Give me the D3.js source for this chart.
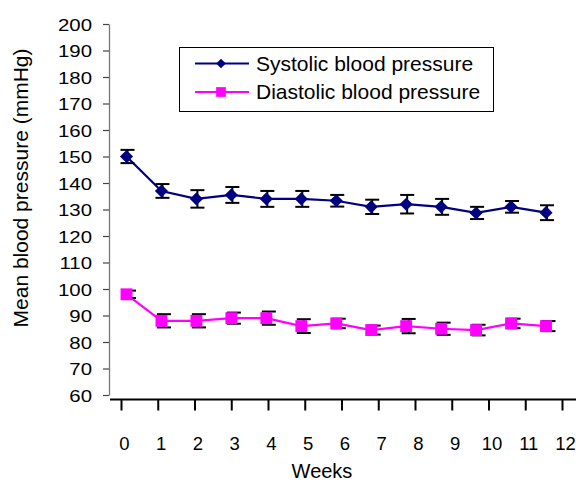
<!DOCTYPE html>
<html>
<head>
<meta charset="utf-8">
<script src="https://cdn.jsdelivr.net/npm/d3@7"></script>
<style>
  html, body { margin: 0; padding: 0; background: #fff; }
  svg { display: block; font-family: "Liberation Sans", Arial, sans-serif; }
</style>
</head>
<body>
<div id="chart"></div>
<script>
// Chart data
const weeks = [0, 1, 2, 3, 4, 5, 6, 7, 8, 9, 10, 11, 12];
const systolicMean = [150, 137, 134, 135.5, 134, 134, 133.3, 131, 132, 131, 128.7, 131, 128.8];
const systolicErr = [2.5, 2.6, 3.3, 3, 3, 3, 2.2, 2.7, 3.5, 3, 2.3, 2.2, 2.8];
const diastolicMean = [98, 88, 88, 89, 89, 86, 87, 84.5, 86, 85, 84.5, 87, 86];
const diastolicErr = [1.4, 2.5, 2.5, 2.1, 2.5, 2.6, 1.8, 1.7, 2.7, 2.3, 2, 1.8, 1.9];
const yTicks = [60, 70, 80, 90, 100, 110, 120, 130, 140, 150, 160, 170, 180, 190, 200];
const seriesNames = ["Systolic blood pressure", "Diastolic blood pressure"];

document.addEventListener("DOMContentLoaded", () => {
  const width = 576;
  const height = 482;

  const svg = d3.select("#chart")
    .append("svg")
    .attr("width", width)
    .attr("height", height);

  // Scales
  const x = d3.scaleLinear().domain([0, 12]).range([126.5, 546]);
  const xAxisScale = d3.scaleLinear().domain([0, 12]).range([121, 562]);
  const y = d3.scaleLinear().domain([60, 200]).range([395, 24]);

  // Y axis (grey line, ticks to the left)
  const yAxis = svg.append("g")
    .attr("transform", "translate(109,0)")
    .call(d3.axisLeft(y).tickValues(yTicks).tickSize(6).tickSizeOuter(0).tickPadding(0));
  yAxis.select(".domain").attr("stroke", "#777").attr("stroke-width", 1.3);
  yAxis.selectAll(".tick line").attr("stroke", "#444").attr("stroke-width", 1.2);
  yAxis.selectAll(".tick text")
    .attr("x", 0)
    .attr("dy", null)
    .attr("y", 6)
    .attr("fill", "#000")
    .style("font-size", "17px")
    .style("font-family", "'Liberation Sans', Arial, sans-serif")
    .attr("transform", "translate(-17,0) scale(1.2,1)");

  // X axis - separate baseline under the plot
  const xAxis = svg.append("g")
    .attr("transform", "translate(0,399.5)")
    .call(d3.axisBottom(xAxisScale).tickValues(weeks).tickSize(11).tickSizeOuter(0).tickPadding(26));
  xAxis.select(".domain").remove();
  xAxis.append("line")
    .attr("x1", 110).attr("x2", width)
    .attr("stroke", "#000").attr("stroke-width", 2.2);
  xAxis.selectAll(".tick line").attr("stroke", "#000").attr("stroke-width", 2);
  xAxis.selectAll(".tick text")
    .attr("dx", 3)
    .attr("fill", "#000")
    .style("font-size", "18.5px")
    .style("font-family", "'Liberation Sans', Arial, sans-serif");

  // Axis titles
  svg.append("text")
    .attr("x", 322).attr("y", 478)
    .attr("text-anchor", "middle")
    .style("font-size", "20px")
    .text("Weeks");

  svg.append("text")
    .attr("transform", "translate(28,188) rotate(-90)")
    .attr("text-anchor", "middle")
    .style("font-size", "21px")
    .text("Mean blood pressure (mmHg)");

  const series = [
    { name: seriesNames[0], mean: systolicMean, err: systolicErr, color: "#000080", symbol: d3.symbolDiamond2, size: 110, legendSize: 60, errShift: 1 },
    { name: seriesNames[1], mean: diastolicMean, err: diastolicErr, color: "#ff00ff", symbol: d3.symbolSquare2, size: 180, legendSize: 120, errShift: 2.5 }
  ];

  const line = d3.line()
    .x((d, i) => x(weeks[i]))
    .y(d => y(d));

  series.forEach(s => {
    const g = svg.append("g");

    // Connecting line
    g.append("path")
      .datum(s.mean)
      .attr("d", line)
      .attr("fill", "none")
      .attr("stroke", s.color)
      .attr("stroke-width", 2.2);

    // Error bars
    const capHalf = 7;
    const eb = g.selectAll(".err")
      .data(s.mean)
      .join("g")
      .attr("class", "err")
      .attr("stroke", "#000")
      .attr("stroke-width", 2);
    eb.append("line")
      .attr("x1", (d, i) => x(weeks[i]) + s.errShift)
      .attr("x2", (d, i) => x(weeks[i]) + s.errShift)
      .attr("y1", (d, i) => y(d + s.err[i]))
      .attr("y2", (d, i) => y(d - s.err[i]));
    eb.append("line")
      .attr("x1", (d, i) => x(weeks[i]) + s.errShift - capHalf)
      .attr("x2", (d, i) => x(weeks[i]) + s.errShift + capHalf)
      .attr("y1", (d, i) => y(d + s.err[i]))
      .attr("y2", (d, i) => y(d + s.err[i]));
    eb.append("line")
      .attr("x1", (d, i) => x(weeks[i]) + s.errShift - capHalf)
      .attr("x2", (d, i) => x(weeks[i]) + s.errShift + capHalf)
      .attr("y1", (d, i) => y(d - s.err[i]))
      .attr("y2", (d, i) => y(d - s.err[i]));

    // Markers
    g.selectAll(".mark")
      .data(s.mean)
      .join("path")
      .attr("class", "mark")
      .attr("transform", (d, i) => `translate(${x(weeks[i])},${y(d)})`)
      .attr("d", d3.symbol().type(s.symbol).size(s.size))
      .attr("fill", s.color);
  });

  // Legend
  const legend = svg.append("g");
  legend.append("rect")
    .attr("x", 179.5).attr("y", 47.5)
    .attr("width", 314).attr("height", 64)
    .attr("fill", "#fff")
    .attr("stroke", "#000")
    .attr("stroke-width", 1);

  series.forEach((s, i) => {
    const ly = 63.5 + i * 28.5;
    legend.append("line")
      .attr("x1", 195).attr("x2", 249)
      .attr("y1", ly).attr("y2", ly)
      .attr("stroke", s.color)
      .attr("stroke-width", 1.8);
    legend.append("path")
      .attr("transform", `translate(221,${ly})`)
      .attr("d", d3.symbol().type(s.symbol).size(s.legendSize))
      .attr("fill", s.color);
    legend.append("text")
      .attr("x", 256).attr("y", ly + 7)
      .style("font-size", "21px")
      .text(s.name);
  });
});
</script>
</body>
</html>
